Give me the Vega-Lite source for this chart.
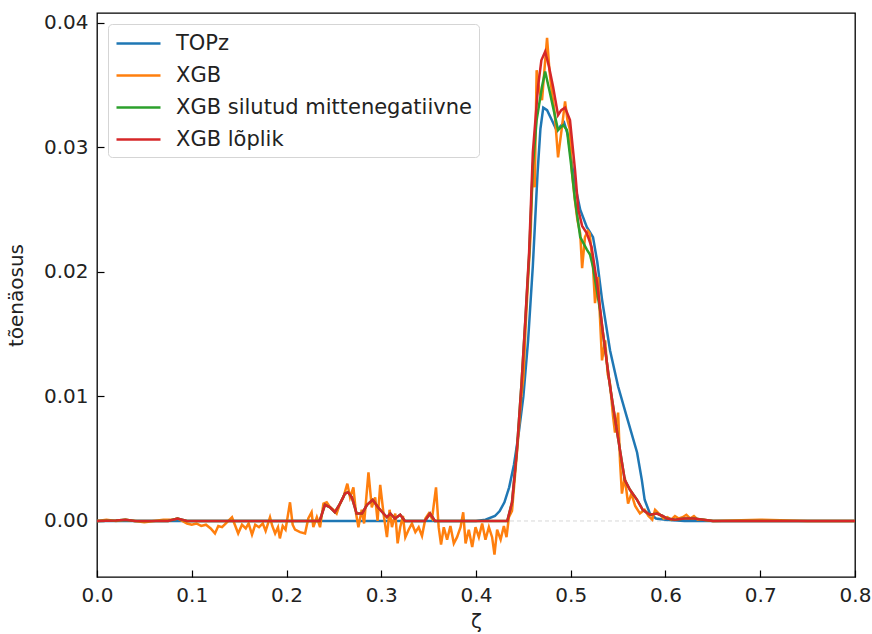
{
  "$schema": "https://vega.github.io/schema/vega-lite/v6.json",
  "width": 758,
  "height": 564,
  "autosize": {"type": "none"},
  "padding": {"left": 97, "top": 13, "right": 17, "bottom": 57},
  "background": "white",
  "config": {
    "font": "DejaVu Sans",
    "view": {"stroke": "black", "strokeWidth": 1.3},
    "axis": {
      "grid": false,
      "domain": false,
      "tickColor": "black",
      "tickWidth": 1.2,
      "tickSize": -7,
      "labelFlush": false,
      "labelFont": "DejaVu Sans",
      "labelFontSize": 20,
      "labelColor": "#222",
      "titleFont": "DejaVu Sans",
      "titleFontSize": 20,
      "titleFontWeight": "normal",
      "titleColor": "#222"
    }
  },
  "datasets": {
    "topz": [
      {"x": 0, "y": 0, "s": "TOPz"},
      {"x": 0.40, "y": 0, "s": "TOPz"},
      {"x": 0.41, "y": 0.0001, "s": "TOPz"},
      {"x": 0.42, "y": 0.0004, "s": "TOPz"},
      {"x": 0.425, "y": 0.0008, "s": "TOPz"},
      {"x": 0.43, "y": 0.0015, "s": "TOPz"},
      {"x": 0.435, "y": 0.0027, "s": "TOPz"},
      {"x": 0.44, "y": 0.0045, "s": "TOPz"},
      {"x": 0.445, "y": 0.0070, "s": "TOPz"},
      {"x": 0.45, "y": 0.0100, "s": "TOPz"},
      {"x": 0.455, "y": 0.0145, "s": "TOPz"},
      {"x": 0.46, "y": 0.0205, "s": "TOPz"},
      {"x": 0.465, "y": 0.0280, "s": "TOPz"},
      {"x": 0.468, "y": 0.0315, "s": "TOPz"},
      {"x": 0.471, "y": 0.0332, "s": "TOPz"},
      {"x": 0.475, "y": 0.0330, "s": "TOPz"},
      {"x": 0.48, "y": 0.0322, "s": "TOPz"},
      {"x": 0.4855, "y": 0.0313, "s": "TOPz"},
      {"x": 0.489, "y": 0.0317, "s": "TOPz"},
      {"x": 0.493, "y": 0.0320, "s": "TOPz"},
      {"x": 0.497, "y": 0.0310, "s": "TOPz"},
      {"x": 0.50, "y": 0.0293, "s": "TOPz"},
      {"x": 0.505, "y": 0.0268, "s": "TOPz"},
      {"x": 0.51, "y": 0.0250, "s": "TOPz"},
      {"x": 0.517, "y": 0.0236, "s": "TOPz"},
      {"x": 0.5235, "y": 0.0228, "s": "TOPz"},
      {"x": 0.528, "y": 0.0208, "s": "TOPz"},
      {"x": 0.533, "y": 0.0178, "s": "TOPz"},
      {"x": 0.5415, "y": 0.0137, "s": "TOPz"},
      {"x": 0.55, "y": 0.0108, "s": "TOPz"},
      {"x": 0.559, "y": 0.0084, "s": "TOPz"},
      {"x": 0.570, "y": 0.0055, "s": "TOPz"},
      {"x": 0.575, "y": 0.0033, "s": "TOPz"},
      {"x": 0.578, "y": 0.0017, "s": "TOPz"},
      {"x": 0.5835, "y": 0.0006, "s": "TOPz"},
      {"x": 0.59, "y": 0.0002, "s": "TOPz"},
      {"x": 0.60, "y": 0.0001, "s": "TOPz"},
      {"x": 0.62, "y": 0, "s": "TOPz"},
      {"x": 0.8, "y": 0, "s": "TOPz"}
    ],
    "xgb": [
      {"x": 0, "y": 0, "s": "XGB"},
      {"x": 0.01, "y": 0.0001, "s": "XGB"},
      {"x": 0.02, "y": 0, "s": "XGB"},
      {"x": 0.03, "y": 0.0001, "s": "XGB"},
      {"x": 0.04, "y": 0, "s": "XGB"},
      {"x": 0.05, "y": -0.0001, "s": "XGB"},
      {"x": 0.06, "y": 0, "s": "XGB"},
      {"x": 0.07, "y": 0.0001, "s": "XGB"},
      {"x": 0.08, "y": 0.0001, "s": "XGB"},
      {"x": 0.085, "y": 0.0002, "s": "XGB"},
      {"x": 0.09, "y": 0, "s": "XGB"},
      {"x": 0.095, "y": -0.0002, "s": "XGB"},
      {"x": 0.1, "y": -0.0003, "s": "XGB"},
      {"x": 0.105, "y": -0.0002, "s": "XGB"},
      {"x": 0.11, "y": -0.0004, "s": "XGB"},
      {"x": 0.115, "y": -0.0003, "s": "XGB"},
      {"x": 0.12, "y": -0.0006, "s": "XGB"},
      {"x": 0.1245, "y": -0.001, "s": "XGB"},
      {"x": 0.128, "y": -0.0004, "s": "XGB"},
      {"x": 0.132, "y": -0.0005, "s": "XGB"},
      {"x": 0.136, "y": -0.0002, "s": "XGB"},
      {"x": 0.1425, "y": 0.0003, "s": "XGB"},
      {"x": 0.146, "y": -0.0004, "s": "XGB"},
      {"x": 0.149, "y": -0.001, "s": "XGB"},
      {"x": 0.153, "y": -0.0003, "s": "XGB"},
      {"x": 0.157, "y": -0.0006, "s": "XGB"},
      {"x": 0.16, "y": -0.0002, "s": "XGB"},
      {"x": 0.1636, "y": -0.0011, "s": "XGB"},
      {"x": 0.167, "y": -0.0003, "s": "XGB"},
      {"x": 0.171, "y": -0.0005, "s": "XGB"},
      {"x": 0.175, "y": -0.0002, "s": "XGB"},
      {"x": 0.178, "y": -0.0008, "s": "XGB"},
      {"x": 0.1826, "y": 0.0003, "s": "XGB"},
      {"x": 0.185, "y": -0.0004, "s": "XGB"},
      {"x": 0.188, "y": -0.001, "s": "XGB"},
      {"x": 0.191, "y": -0.0005, "s": "XGB"},
      {"x": 0.193, "y": -0.0014, "s": "XGB"},
      {"x": 0.196, "y": -0.0004, "s": "XGB"},
      {"x": 0.199, "y": -0.0007, "s": "XGB"},
      {"x": 0.2037, "y": 0.0015, "s": "XGB"},
      {"x": 0.2065, "y": -0.0003, "s": "XGB"},
      {"x": 0.209, "y": -0.0007, "s": "XGB"},
      {"x": 0.2143, "y": -0.0009, "s": "XGB"},
      {"x": 0.2196, "y": -0.001, "s": "XGB"},
      {"x": 0.223, "y": 0.0002, "s": "XGB"},
      {"x": 0.2265, "y": 0.0007, "s": "XGB"},
      {"x": 0.2283, "y": -0.0005, "s": "XGB"},
      {"x": 0.232, "y": 0.0003, "s": "XGB"},
      {"x": 0.2354, "y": -0.0005, "s": "XGB"},
      {"x": 0.239, "y": 0.0014, "s": "XGB"},
      {"x": 0.2424, "y": 0.0015, "s": "XGB"},
      {"x": 0.246, "y": 0.0011, "s": "XGB"},
      {"x": 0.2494, "y": 0.0009, "s": "XGB"},
      {"x": 0.2529, "y": 0.0006, "s": "XGB"},
      {"x": 0.2565, "y": 0.0014, "s": "XGB"},
      {"x": 0.26, "y": 0.0019, "s": "XGB"},
      {"x": 0.2642, "y": 0.003, "s": "XGB"},
      {"x": 0.2671, "y": 0.0019, "s": "XGB"},
      {"x": 0.2706, "y": 0.0027, "s": "XGB"},
      {"x": 0.2734, "y": 0.0006, "s": "XGB"},
      {"x": 0.2759, "y": -0.0005, "s": "XGB"},
      {"x": 0.2794, "y": 0.0009, "s": "XGB"},
      {"x": 0.2819, "y": -0.0002, "s": "XGB"},
      {"x": 0.2865, "y": 0.0039, "s": "XGB"},
      {"x": 0.29, "y": 0.0011, "s": "XGB"},
      {"x": 0.2936, "y": 0.0019, "s": "XGB"},
      {"x": 0.2961, "y": 0, "s": "XGB"},
      {"x": 0.2989, "y": 0.0029, "s": "XGB"},
      {"x": 0.3024, "y": 0.0006, "s": "XGB"},
      {"x": 0.306, "y": -0.0013, "s": "XGB"},
      {"x": 0.3088, "y": 0.0009, "s": "XGB"},
      {"x": 0.3113, "y": -0.0005, "s": "XGB"},
      {"x": 0.3148, "y": 0.0006, "s": "XGB"},
      {"x": 0.3173, "y": -0.0018, "s": "XGB"},
      {"x": 0.32, "y": -0.0005, "s": "XGB"},
      {"x": 0.3229, "y": 0.0004, "s": "XGB"},
      {"x": 0.3254, "y": -0.0013, "s": "XGB"},
      {"x": 0.3289, "y": -0.0007, "s": "XGB"},
      {"x": 0.3324, "y": -0.0002, "s": "XGB"},
      {"x": 0.336, "y": -0.0009, "s": "XGB"},
      {"x": 0.3395, "y": -0.0005, "s": "XGB"},
      {"x": 0.343, "y": -0.0012, "s": "XGB"},
      {"x": 0.3466, "y": 0.0002, "s": "XGB"},
      {"x": 0.3501, "y": 0.0006, "s": "XGB"},
      {"x": 0.3536, "y": 0.0002, "s": "XGB"},
      {"x": 0.3578, "y": 0.0027, "s": "XGB"},
      {"x": 0.3606, "y": -0.0005, "s": "XGB"},
      {"x": 0.3631, "y": -0.0019, "s": "XGB"},
      {"x": 0.366, "y": -0.0005, "s": "XGB"},
      {"x": 0.3695, "y": -0.0015, "s": "XGB"},
      {"x": 0.373, "y": -0.0004, "s": "XGB"},
      {"x": 0.3766, "y": -0.0018, "s": "XGB"},
      {"x": 0.38, "y": -0.0013, "s": "XGB"},
      {"x": 0.3837, "y": -0.0005, "s": "XGB"},
      {"x": 0.3865, "y": 0.0007, "s": "XGB"},
      {"x": 0.389, "y": -0.0018, "s": "XGB"},
      {"x": 0.3924, "y": -0.0007, "s": "XGB"},
      {"x": 0.396, "y": -0.0021, "s": "XGB"},
      {"x": 0.3995, "y": -0.0005, "s": "XGB"},
      {"x": 0.403, "y": -0.0013, "s": "XGB"},
      {"x": 0.4065, "y": -0.0002, "s": "XGB"},
      {"x": 0.41, "y": -0.0015, "s": "XGB"},
      {"x": 0.4136, "y": -0.0005, "s": "XGB"},
      {"x": 0.417, "y": -0.0013, "s": "XGB"},
      {"x": 0.4195, "y": -0.0027, "s": "XGB"},
      {"x": 0.4223, "y": -0.0007, "s": "XGB"},
      {"x": 0.426, "y": -0.0015, "s": "XGB"},
      {"x": 0.4294, "y": -0.0004, "s": "XGB"},
      {"x": 0.4322, "y": -0.0013, "s": "XGB"},
      {"x": 0.4347, "y": 0.0003, "s": "XGB"},
      {"x": 0.438, "y": 0.0008, "s": "XGB"},
      {"x": 0.441, "y": 0.0035, "s": "XGB"},
      {"x": 0.444, "y": 0.0062, "s": "XGB"},
      {"x": 0.4475, "y": 0.0098, "s": "XGB"},
      {"x": 0.45, "y": 0.0115, "s": "XGB"},
      {"x": 0.4525, "y": 0.0158, "s": "XGB"},
      {"x": 0.455, "y": 0.0195, "s": "XGB"},
      {"x": 0.4575, "y": 0.0228, "s": "XGB"},
      {"x": 0.46, "y": 0.0285, "s": "XGB"},
      {"x": 0.462, "y": 0.0268, "s": "XGB"},
      {"x": 0.464, "y": 0.0362, "s": "XGB"},
      {"x": 0.467, "y": 0.0345, "s": "XGB"},
      {"x": 0.4697, "y": 0.0338, "s": "XGB"},
      {"x": 0.4725, "y": 0.0365, "s": "XGB"},
      {"x": 0.475, "y": 0.0388, "s": "XGB"},
      {"x": 0.4775, "y": 0.0362, "s": "XGB"},
      {"x": 0.48, "y": 0.0345, "s": "XGB"},
      {"x": 0.483, "y": 0.0328, "s": "XGB"},
      {"x": 0.4866, "y": 0.0292, "s": "XGB"},
      {"x": 0.4908, "y": 0.0317, "s": "XGB"},
      {"x": 0.494, "y": 0.0337, "s": "XGB"},
      {"x": 0.4965, "y": 0.0322, "s": "XGB"},
      {"x": 0.4992, "y": 0.0314, "s": "XGB"},
      {"x": 0.501, "y": 0.0282, "s": "XGB"},
      {"x": 0.504, "y": 0.026, "s": "XGB"},
      {"x": 0.507, "y": 0.0242, "s": "XGB"},
      {"x": 0.51, "y": 0.0231, "s": "XGB"},
      {"x": 0.512, "y": 0.0203, "s": "XGB"},
      {"x": 0.515, "y": 0.0228, "s": "XGB"},
      {"x": 0.518, "y": 0.0233, "s": "XGB"},
      {"x": 0.52, "y": 0.0231, "s": "XGB"},
      {"x": 0.5235, "y": 0.0204, "s": "XGB"},
      {"x": 0.5256, "y": 0.0175, "s": "XGB"},
      {"x": 0.5288, "y": 0.0196, "s": "XGB"},
      {"x": 0.533, "y": 0.0129, "s": "XGB"},
      {"x": 0.5363, "y": 0.0145, "s": "XGB"},
      {"x": 0.539, "y": 0.0118, "s": "XGB"},
      {"x": 0.5415, "y": 0.011, "s": "XGB"},
      {"x": 0.5445, "y": 0.0085, "s": "XGB"},
      {"x": 0.5467, "y": 0.0071, "s": "XGB"},
      {"x": 0.55, "y": 0.0087, "s": "XGB"},
      {"x": 0.552, "y": 0.0048, "s": "XGB"},
      {"x": 0.554, "y": 0.0022, "s": "XGB"},
      {"x": 0.557, "y": 0.0035, "s": "XGB"},
      {"x": 0.5605, "y": 0.0014, "s": "XGB"},
      {"x": 0.564, "y": 0.0022, "s": "XGB"},
      {"x": 0.568, "y": 0.0012, "s": "XGB"},
      {"x": 0.573, "y": 0.0006, "s": "XGB"},
      {"x": 0.578, "y": 0.0009, "s": "XGB"},
      {"x": 0.582, "y": 0.0004, "s": "XGB"},
      {"x": 0.586, "y": 0.0001, "s": "XGB"},
      {"x": 0.589, "y": 0.0009, "s": "XGB"},
      {"x": 0.5943, "y": 0.0005, "s": "XGB"},
      {"x": 0.598, "y": 0.0002, "s": "XGB"},
      {"x": 0.602, "y": 0.0003, "s": "XGB"},
      {"x": 0.606, "y": 0.0001, "s": "XGB"},
      {"x": 0.61, "y": 0.0004, "s": "XGB"},
      {"x": 0.614, "y": 0.0002, "s": "XGB"},
      {"x": 0.618, "y": 0.0003, "s": "XGB"},
      {"x": 0.622, "y": 0.0005, "s": "XGB"},
      {"x": 0.626, "y": 0.0002, "s": "XGB"},
      {"x": 0.63, "y": 0.0004, "s": "XGB"},
      {"x": 0.634, "y": 0.0001, "s": "XGB"},
      {"x": 0.64, "y": 0.0001, "s": "XGB"},
      {"x": 0.65, "y": 0, "s": "XGB"},
      {"x": 0.70, "y": 0.0001, "s": "XGB"},
      {"x": 0.75, "y": 0, "s": "XGB"},
      {"x": 0.8, "y": 0, "s": "XGB"}
    ],
    "green": [
      {"x": 0, "y": 0, "s": "XGB silutud mittenegatiivne"},
      {"x": 0.02, "y": 0.00003, "s": "XGB silutud mittenegatiivne"},
      {"x": 0.03, "y": 0.0001, "s": "XGB silutud mittenegatiivne"},
      {"x": 0.04, "y": 0, "s": "XGB silutud mittenegatiivne"},
      {"x": 0.075, "y": 0, "s": "XGB silutud mittenegatiivne"},
      {"x": 0.085, "y": 0.0002, "s": "XGB silutud mittenegatiivne"},
      {"x": 0.095, "y": 0, "s": "XGB silutud mittenegatiivne"},
      {"x": 0.235, "y": 0, "s": "XGB silutud mittenegatiivne"},
      {"x": 0.2406, "y": 0.0013, "s": "XGB silutud mittenegatiivne"},
      {"x": 0.246, "y": 0.0011, "s": "XGB silutud mittenegatiivne"},
      {"x": 0.251, "y": 0.0007, "s": "XGB silutud mittenegatiivne"},
      {"x": 0.2565, "y": 0.0014, "s": "XGB silutud mittenegatiivne"},
      {"x": 0.2617, "y": 0.0022, "s": "XGB silutud mittenegatiivne"},
      {"x": 0.265, "y": 0.0023, "s": "XGB silutud mittenegatiivne"},
      {"x": 0.269, "y": 0.0019, "s": "XGB silutud mittenegatiivne"},
      {"x": 0.274, "y": 0.0006, "s": "XGB silutud mittenegatiivne"},
      {"x": 0.2797, "y": 0.0006, "s": "XGB silutud mittenegatiivne"},
      {"x": 0.285, "y": 0.0013, "s": "XGB silutud mittenegatiivne"},
      {"x": 0.291, "y": 0.0017, "s": "XGB silutud mittenegatiivne"},
      {"x": 0.2966, "y": 0.0011, "s": "XGB silutud mittenegatiivne"},
      {"x": 0.3, "y": 0.0008, "s": "XGB silutud mittenegatiivne"},
      {"x": 0.306, "y": 0.0003, "s": "XGB silutud mittenegatiivne"},
      {"x": 0.3096, "y": 0.0006, "s": "XGB silutud mittenegatiivne"},
      {"x": 0.3145, "y": 0.0002, "s": "XGB silutud mittenegatiivne"},
      {"x": 0.32, "y": 0.0005, "s": "XGB silutud mittenegatiivne"},
      {"x": 0.325, "y": 0, "s": "XGB silutud mittenegatiivne"},
      {"x": 0.346, "y": 0, "s": "XGB silutud mittenegatiivne"},
      {"x": 0.3515, "y": 0.0006, "s": "XGB silutud mittenegatiivne"},
      {"x": 0.3567, "y": 0, "s": "XGB silutud mittenegatiivne"},
      {"x": 0.433, "y": 0, "s": "XGB silutud mittenegatiivne"},
      {"x": 0.438, "y": 0.0015, "s": "XGB silutud mittenegatiivne"},
      {"x": 0.443, "y": 0.0055, "s": "XGB silutud mittenegatiivne"},
      {"x": 0.448, "y": 0.0110, "s": "XGB silutud mittenegatiivne"},
      {"x": 0.452, "y": 0.0160, "s": "XGB silutud mittenegatiivne"},
      {"x": 0.456, "y": 0.0212, "s": "XGB silutud mittenegatiivne"},
      {"x": 0.46, "y": 0.0285, "s": "XGB silutud mittenegatiivne"},
      {"x": 0.464, "y": 0.0322, "s": "XGB silutud mittenegatiivne"},
      {"x": 0.4697, "y": 0.0349, "s": "XGB silutud mittenegatiivne"},
      {"x": 0.473, "y": 0.0361, "s": "XGB silutud mittenegatiivne"},
      {"x": 0.478, "y": 0.0344, "s": "XGB silutud mittenegatiivne"},
      {"x": 0.4834, "y": 0.0325, "s": "XGB silutud mittenegatiivne"},
      {"x": 0.4866, "y": 0.0314, "s": "XGB silutud mittenegatiivne"},
      {"x": 0.492, "y": 0.0318, "s": "XGB silutud mittenegatiivne"},
      {"x": 0.496, "y": 0.0314, "s": "XGB silutud mittenegatiivne"},
      {"x": 0.501, "y": 0.0282, "s": "XGB silutud mittenegatiivne"},
      {"x": 0.5045, "y": 0.0258, "s": "XGB silutud mittenegatiivne"},
      {"x": 0.51, "y": 0.0228, "s": "XGB silutud mittenegatiivne"},
      {"x": 0.517, "y": 0.0218, "s": "XGB silutud mittenegatiivne"},
      {"x": 0.5203, "y": 0.0214, "s": "XGB silutud mittenegatiivne"},
      {"x": 0.5235, "y": 0.0204, "s": "XGB silutud mittenegatiivne"},
      {"x": 0.531, "y": 0.0169, "s": "XGB silutud mittenegatiivne"},
      {"x": 0.534, "y": 0.0151, "s": "XGB silutud mittenegatiivne"},
      {"x": 0.5415, "y": 0.0108, "s": "XGB silutud mittenegatiivne"},
      {"x": 0.549, "y": 0.0071, "s": "XGB silutud mittenegatiivne"},
      {"x": 0.557, "y": 0.0033, "s": "XGB silutud mittenegatiivne"},
      {"x": 0.5625, "y": 0.0025, "s": "XGB silutud mittenegatiivne"},
      {"x": 0.57, "y": 0.0017, "s": "XGB silutud mittenegatiivne"},
      {"x": 0.576, "y": 0.0009, "s": "XGB silutud mittenegatiivne"},
      {"x": 0.5835, "y": 0.0005, "s": "XGB silutud mittenegatiivne"},
      {"x": 0.591, "y": 0.0006, "s": "XGB silutud mittenegatiivne"},
      {"x": 0.597, "y": 0.0004, "s": "XGB silutud mittenegatiivne"},
      {"x": 0.6016, "y": 0.0002, "s": "XGB silutud mittenegatiivne"},
      {"x": 0.61, "y": 0.0001, "s": "XGB silutud mittenegatiivne"},
      {"x": 0.62, "y": 0.0002, "s": "XGB silutud mittenegatiivne"},
      {"x": 0.63, "y": 0.0002, "s": "XGB silutud mittenegatiivne"},
      {"x": 0.64, "y": 0.0001, "s": "XGB silutud mittenegatiivne"},
      {"x": 0.65, "y": 0, "s": "XGB silutud mittenegatiivne"},
      {"x": 0.8, "y": 0, "s": "XGB silutud mittenegatiivne"}
    ],
    "red": [
      {"x": 0, "y": 0, "s": "XGB lõplik"},
      {"x": 0.02, "y": 0.00003, "s": "XGB lõplik"},
      {"x": 0.03, "y": 0.0001, "s": "XGB lõplik"},
      {"x": 0.04, "y": 0, "s": "XGB lõplik"},
      {"x": 0.075, "y": 0, "s": "XGB lõplik"},
      {"x": 0.085, "y": 0.0002, "s": "XGB lõplik"},
      {"x": 0.095, "y": 0, "s": "XGB lõplik"},
      {"x": 0.235, "y": 0, "s": "XGB lõplik"},
      {"x": 0.2406, "y": 0.0013, "s": "XGB lõplik"},
      {"x": 0.246, "y": 0.0011, "s": "XGB lõplik"},
      {"x": 0.251, "y": 0.0007, "s": "XGB lõplik"},
      {"x": 0.2565, "y": 0.0014, "s": "XGB lõplik"},
      {"x": 0.2617, "y": 0.0022, "s": "XGB lõplik"},
      {"x": 0.265, "y": 0.0023, "s": "XGB lõplik"},
      {"x": 0.269, "y": 0.0019, "s": "XGB lõplik"},
      {"x": 0.274, "y": 0.0006, "s": "XGB lõplik"},
      {"x": 0.2797, "y": 0.0006, "s": "XGB lõplik"},
      {"x": 0.285, "y": 0.0013, "s": "XGB lõplik"},
      {"x": 0.291, "y": 0.0017, "s": "XGB lõplik"},
      {"x": 0.2966, "y": 0.0011, "s": "XGB lõplik"},
      {"x": 0.3, "y": 0.0008, "s": "XGB lõplik"},
      {"x": 0.306, "y": 0.0003, "s": "XGB lõplik"},
      {"x": 0.3096, "y": 0.0006, "s": "XGB lõplik"},
      {"x": 0.3145, "y": 0.0002, "s": "XGB lõplik"},
      {"x": 0.32, "y": 0.0005, "s": "XGB lõplik"},
      {"x": 0.325, "y": 0, "s": "XGB lõplik"},
      {"x": 0.346, "y": 0, "s": "XGB lõplik"},
      {"x": 0.3515, "y": 0.0006, "s": "XGB lõplik"},
      {"x": 0.3567, "y": 0, "s": "XGB lõplik"},
      {"x": 0.433, "y": 0, "s": "XGB lõplik"},
      {"x": 0.438, "y": 0.0015, "s": "XGB lõplik"},
      {"x": 0.443, "y": 0.0055, "s": "XGB lõplik"},
      {"x": 0.448, "y": 0.0110, "s": "XGB lõplik"},
      {"x": 0.452, "y": 0.0161, "s": "XGB lõplik"},
      {"x": 0.456, "y": 0.0215, "s": "XGB lõplik"},
      {"x": 0.46, "y": 0.0296, "s": "XGB lõplik"},
      {"x": 0.4655, "y": 0.0349, "s": "XGB lõplik"},
      {"x": 0.469, "y": 0.0370, "s": "XGB lõplik"},
      {"x": 0.473, "y": 0.0377, "s": "XGB lõplik"},
      {"x": 0.477, "y": 0.0365, "s": "XGB lõplik"},
      {"x": 0.4813, "y": 0.0349, "s": "XGB lõplik"},
      {"x": 0.4866, "y": 0.0326, "s": "XGB lõplik"},
      {"x": 0.49, "y": 0.0330, "s": "XGB lõplik"},
      {"x": 0.494, "y": 0.0332, "s": "XGB lõplik"},
      {"x": 0.4992, "y": 0.0322, "s": "XGB lõplik"},
      {"x": 0.5045, "y": 0.0282, "s": "XGB lõplik"},
      {"x": 0.508, "y": 0.025, "s": "XGB lõplik"},
      {"x": 0.512, "y": 0.0237, "s": "XGB lõplik"},
      {"x": 0.517, "y": 0.0231, "s": "XGB lõplik"},
      {"x": 0.522, "y": 0.022, "s": "XGB lõplik"},
      {"x": 0.528, "y": 0.019, "s": "XGB lõplik"},
      {"x": 0.534, "y": 0.0151, "s": "XGB lõplik"},
      {"x": 0.5415, "y": 0.0108, "s": "XGB lõplik"},
      {"x": 0.549, "y": 0.0071, "s": "XGB lõplik"},
      {"x": 0.557, "y": 0.0033, "s": "XGB lõplik"},
      {"x": 0.5625, "y": 0.0025, "s": "XGB lõplik"},
      {"x": 0.57, "y": 0.0017, "s": "XGB lõplik"},
      {"x": 0.576, "y": 0.0009, "s": "XGB lõplik"},
      {"x": 0.5835, "y": 0.0005, "s": "XGB lõplik"},
      {"x": 0.591, "y": 0.0006, "s": "XGB lõplik"},
      {"x": 0.597, "y": 0.0004, "s": "XGB lõplik"},
      {"x": 0.6016, "y": 0.0002, "s": "XGB lõplik"},
      {"x": 0.61, "y": 0.0001, "s": "XGB lõplik"},
      {"x": 0.62, "y": 0.0002, "s": "XGB lõplik"},
      {"x": 0.63, "y": 0.0002, "s": "XGB lõplik"},
      {"x": 0.64, "y": 0.0001, "s": "XGB lõplik"},
      {"x": 0.65, "y": 0, "s": "XGB lõplik"},
      {"x": 0.8, "y": 0, "s": "XGB lõplik"}
    ],
    "zero": [{"y": 0}]
  },
  "encoding": {
    "x": {
      "field": "x", "type": "quantitative",
      "scale": {"domain": [0, 0.8], "nice": false, "zero": false},
      "axis": {"values": [0, 0.1, 0.2, 0.3, 0.4, 0.5, 0.6, 0.7, 0.8], "format": ".1f", "title": "ζ", "labelPadding": 15, "titlePadding": 6}
    },
    "y": {
      "field": "y", "type": "quantitative",
      "scale": {"domain": [-0.0045, 0.0408], "nice": false, "zero": false},
      "axis": {"values": [0, 0.01, 0.02, 0.03, 0.04], "format": ".2f", "title": "tõenäosus", "labelPadding": 16, "titlePadding": 17}
    }
  },
  "layer": [
    {
      "data": {"name": "zero"},
      "mark": {"type": "rule", "color": "#cccccc", "strokeDash": [4, 3], "strokeWidth": 0.8},
      "encoding": {"x": {"value": 0}, "x2": {"value": 758}, "y": {"field": "y", "type": "quantitative"}}
    },
    {
      "data": {"name": "topz"},
      "mark": {"type": "line", "strokeWidth": 2.5, "clip": true},
      "encoding": {"color": {"field": "s", "type": "nominal"}}
    },
    {
      "data": {"name": "xgb"},
      "mark": {"type": "line", "strokeWidth": 2.5, "clip": true},
      "encoding": {"color": {"field": "s", "type": "nominal"}}
    },
    {
      "data": {"name": "green"},
      "mark": {"type": "line", "strokeWidth": 2.5, "clip": true},
      "encoding": {"color": {"field": "s", "type": "nominal"}}
    },
    {
      "data": {"name": "red"},
      "mark": {"type": "line", "strokeWidth": 2.5, "clip": true},
      "encoding": {
        "color": {
          "field": "s", "type": "nominal",
          "scale": {
            "domain": ["TOPz", "XGB", "XGB silutud mittenegatiivne", "XGB lõplik"],
            "range": ["#1f77b4", "#ff7f0e", "#2ca02c", "#d62728"]
          },
          "legend": {
            "title": null,
            "orient": "none",
            "legendX": 11,
            "legendY": 11,
            "fillColor": "white",
            "strokeColor": "#d5d5d5",
            "cornerRadius": 4,
            "padding": 7,
            "symbolType": "M-2,0H2",
            "symbolStrokeWidth": 2.5,
            "symbolSize": 484,
            "symbolOffset": 11,
            "labelFontSize": 21,
            "labelColor": "#222",
            "labelFont": "DejaVu Sans",
            "labelOffset": 25,
            "labelLimit": 0,
            "rowPadding": 9
          }
        }
      }
    }
  ]
}
